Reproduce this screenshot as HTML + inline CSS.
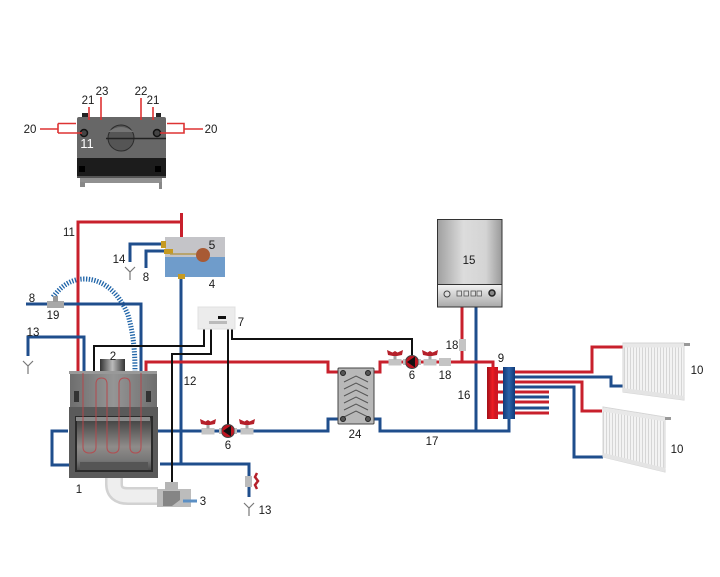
<!DOCTYPE html>
<html><head><meta charset="utf-8"><style>
html,body{margin:0;padding:0;background:#fff}
svg{display:block}
text{font-family:"Liberation Sans",sans-serif;font-size:11.5px;fill:#1a1a1a;text-anchor:middle}
.r{fill:none;stroke:#c8202c;stroke-width:3}
.b{fill:none;stroke:#1f4e8c;stroke-width:3}
.k{fill:none;stroke:#111;stroke-width:2}
.t{fill:none;stroke:#d33;stroke-width:1.6}
.y{fill:none;stroke:#777;stroke-width:1.2}
</style></head><body>
<svg width="720" height="577" viewBox="0 0 720 577" xmlns="http://www.w3.org/2000/svg">
<defs>
<linearGradient id="fp" x1="0" y1="0" x2="1" y2="0"><stop offset="0" stop-color="#6e6e6e"/><stop offset=".5" stop-color="#959595"/><stop offset="1" stop-color="#6e6e6e"/></linearGradient>
<linearGradient id="boil" x1="0" y1="0" x2="1" y2="0"><stop offset="0" stop-color="#a0a0a0"/><stop offset=".4" stop-color="#dcdcdc"/><stop offset=".75" stop-color="#d4d4d4"/><stop offset="1" stop-color="#999"/></linearGradient>
<linearGradient id="boil2" x1="0" y1="0" x2="0" y2="1"><stop offset="0" stop-color="#f4f4f4"/><stop offset="1" stop-color="#a8a8a8"/></linearGradient>
<linearGradient id="fire" x1="0" y1="0" x2="0" y2="1"><stop offset="0" stop-color="#3c3c3c"/><stop offset=".55" stop-color="#8f8c8a"/><stop offset=".8" stop-color="#777"/><stop offset="1" stop-color="#4a4a4a"/></linearGradient>
<linearGradient id="mr" x1="0" y1="0" x2="1" y2="0"><stop offset="0" stop-color="#a01018"/><stop offset=".5" stop-color="#ee1c24"/><stop offset="1" stop-color="#b01018"/></linearGradient>
<linearGradient id="mb" x1="0" y1="0" x2="1" y2="0"><stop offset="0" stop-color="#123a78"/><stop offset=".5" stop-color="#2a62a8"/><stop offset="1" stop-color="#123a78"/></linearGradient>
<linearGradient id="chim" x1="0" y1="0" x2="1" y2="0"><stop offset="0" stop-color="#333"/><stop offset=".5" stop-color="#bbb"/><stop offset="1" stop-color="#333"/></linearGradient>
<pattern id="fins" width="3" height="6" patternUnits="userSpaceOnUse"><rect width="3" height="6" fill="#f3f3f3"/><rect width="1" height="6" fill="#d6d6d6"/></pattern>
<g id="valve"><rect x="-6.500" y="-3" width="13" height="6.500" fill="#c4c4c4"/><rect x="-1.500" y="-6.500" width="3" height="4" fill="#a5a5a5"/><path d="M-8,-12 L-2.500,-9.500 L0,-11 L2.500,-9.500 L8,-12 L7,-7 L2,-6 L-2,-6 L-7,-7Z" fill="#b5202a"/></g>
<g id="pump"><circle r="6.500" fill="#c01420" stroke="#444" stroke-width="1"/><path d="M-5,0 L3,-5.500 L3,5.500Z" fill="#111"/><rect x="-9" y="-3" width="2.500" height="6" fill="#bbb"/><rect x="6.500" y="-3" width="2.500" height="6" fill="#bbb"/></g>
<g id="ydrain"><path class="y" d="M0,8 V16 M0,8 L-5,3 M0,8 L5,3"/></g>
</defs>
<rect width="720" height="577" fill="#fff"/>

<!-- top fireplace view -->
<rect x="82" y="113" width="6" height="5" fill="#222"/><rect x="156" y="113" width="5" height="5" fill="#222"/>
<rect x="77" y="117" width="89" height="42" rx="2" fill="#676767"/>
<rect x="77" y="158" width="89" height="18" fill="#1c1c1c"/>
<rect x="77" y="176" width="89" height="2" fill="#555"/>
<rect x="79" y="166" width="6" height="6" fill="#000"/><rect x="155" y="166" width="6" height="6" fill="#000"/>
<rect x="80" y="178" width="82" height="5" fill="#909090"/><rect x="80" y="182" width="5" height="5" fill="#888"/><rect x="159" y="182" width="3" height="7" fill="#888"/>
<circle cx="121" cy="138" r="13" fill="#555" stroke="#2b2b2b"/><path d="M108,132 Q121,122 134,132Z" fill="#757575"/>
<path d="M106,138.500 H166" stroke="#222" stroke-width="1.500"/>
<circle cx="84" cy="133" r="3.500" fill="#444" stroke="#111" stroke-width="1.500"/>
<circle cx="157" cy="133" r="3.500" fill="#444" stroke="#111" stroke-width="1.500"/>
<path class="t" d="M40,129 H58 M58,123.500 H76 M58,133 H82 M58,123.500 V133"/>
<path class="t" d="M167,123.500 H184 V133 H160 M184,129 H203"/>
<path class="t" d="M89,107 V120 M101,97 V120 M141,98 V120 M153,107 V120"/>
<text x="30" y="133">20</text><text x="211" y="133">20</text>
<text x="88" y="104">21</text><text x="102" y="95">23</text><text x="141" y="95">22</text><text x="153" y="104">21</text>
<text x="87" y="148" style="fill:#fff;font-size:13px">11</text>

<!-- coil -->
<path d="M53,297 C62,285 72,279 84,279 C105,279 120,295 128,315 C134,335 135,355 135,372" fill="none" stroke="#1f64a8" stroke-width="5" stroke-dasharray="1.300 1.500"/>

<!-- pipes -->
<path class="r" d="M78,372 V222 H181.500 M181.500,213 V237"/>
<path class="b" d="M130,262 V244 H163 M146,268 V251 H164"/>
<path class="b" d="M181,277 V464 M160,464 H249 V497"/>
<path class="b" d="M26,304 H141 V372"/>
<path class="b" d="M28,356 V337 H84 V372"/>
<path class="b" d="M68,431 H52 V465 H70"/>
<path class="b" d="M157,431 H328 V419 H339 M372,419 H380 V431 H509 V418"/>
<path class="b" d="M476,307 V431"/>
<path class="r" d="M146,372 V362 H328 V372 H339 M372,372 H380 V362 H493 V370"/>
<path class="r" d="M462,307 V362"/>
<path class="k" d="M204,329 V346 H94 V374 M211,329 V354 H172 V484"/>
<path class="k" d="M228,329 V428 M232,329 V339 H412 V358"/>

<!-- T 19 -->
<rect x="47" y="301" width="17" height="7" fill="#a8a8a8"/><rect x="53" y="296" width="5" height="6" fill="#999"/>

<!-- tank -->
<rect x="165" y="237" width="60" height="20" fill="#c4c4c8"/>
<rect x="165" y="257" width="60" height="20" fill="#6f9ccb"/>
<rect x="161" y="241" width="5" height="7" fill="#c69a22"/><rect x="164" y="249" width="9" height="5" fill="#c69a22"/>
<path d="M170,254 H196" stroke="#b39a50" stroke-width="1.500"/>
<circle cx="203" cy="255" r="7" fill="#a85a34"/>
<rect x="178" y="274" width="7" height="5" fill="#c69a22"/>

<!-- drains -->
<use href="#ydrain" x="130" y="264"/>
<use href="#ydrain" x="28" y="358"/>
<use href="#ydrain" x="249" y="500"/>
<rect x="245" y="476" width="7" height="11" fill="#bbb"/>
<path d="M257,473 L255,477 L258,481 L255,485 L257,489" fill="none" stroke="#b5202a" stroke-width="2.500"/>

<!-- controller -->
<rect x="198" y="307" width="37" height="22" fill="#ececec" stroke="#e0e0e0"/>
<rect x="218" y="316" width="8" height="3" fill="#111"/>
<rect x="209" y="321" width="18" height="3" fill="#bbb"/>

<!-- fireplace -->
<path d="M114,477 V484 Q114,496 128,496 H158" fill="none" stroke="#d2d2d2" stroke-width="18"/>
<path d="M114,477 V484 Q114,496 128,496 H158" fill="none" stroke="#eeeeee" stroke-width="13"/>
<rect x="100" y="359" width="25" height="14" fill="url(#chim)"/>
<rect x="70" y="373" width="87" height="34" fill="url(#fp)"/>
<rect x="69" y="371" width="88" height="3" fill="#999"/>
<rect x="74" y="391" width="5" height="11" fill="#333"/><rect x="146" y="391" width="5" height="11" fill="#333"/>
<rect x="69" y="407" width="89" height="71" fill="#5a5a5a"/>
<rect x="76" y="417" width="76" height="54" fill="url(#fire)" stroke="#2a2a2a" stroke-width="2"/>
<rect x="76" y="417" width="74" height="4" fill="#8a8a8a"/>
<rect x="80" y="462" width="68" height="8" fill="#555"/>
<path d="M83,373 V447 Q83,453 89.500,453 Q96,453 96,447 V384 Q96,378 101.500,378 Q107,378 107,384 V447 Q107,453 113,453 Q119,453 119,447 V384 Q119,378 124.500,378 Q130,378 130,384 V447 Q130,453 135.500,453 Q141,453 141,447 V373" fill="none" stroke="#b8454a" stroke-width="1.100" opacity=".85"/>
<!-- actuator -->
<rect x="157" y="489" width="34" height="18" fill="#bcbcbc"/>
<rect x="165" y="482" width="13" height="8" fill="#b5b5b5"/>
<path d="M163,491 H180 V500 L172,506 H163Z" fill="#858585"/>
<path d="M183,501 L197,501" stroke="#5b8fc4" stroke-width="3"/>

<!-- valves and pumps -->
<use href="#valve" x="208" y="431"/><use href="#pump" x="228" y="431"/><use href="#valve" x="247" y="431"/>
<use href="#valve" x="395" y="362"/><use href="#pump" x="412" y="362"/><use href="#valve" x="430" y="362"/>
<rect x="439" y="358" width="12" height="8" fill="#c4c4c4"/>
<rect x="459" y="339" width="7" height="12" fill="#c4c4c4"/>

<!-- heat exchanger -->
<rect x="338" y="368" width="36" height="56" rx="1" fill="#b8b8b8" stroke="#444"/>
<path d="M344,382 L356,376 L368,382 M344,389 L356,383 L368,389 M344,396 L356,390 L368,396 M344,403 L356,397 L368,403 M344,410 L356,404 L368,410 M344,417 L356,411 L368,417" fill="none" stroke="#555" stroke-width="1"/>
<circle cx="343" cy="373" r="2.500" fill="#555" stroke="#222"/><circle cx="368" cy="373" r="2.500" fill="#555" stroke="#222"/>
<circle cx="343" cy="419" r="2.500" fill="#555" stroke="#222"/><circle cx="368" cy="419" r="2.500" fill="#555" stroke="#222"/>

<!-- boiler -->
<rect x="437.500" y="219.500" width="64.500" height="65" fill="url(#boil)" stroke="#333"/>
<rect x="437.500" y="284.500" width="64.500" height="22.500" fill="url(#boil2)" stroke="#333"/>
<circle cx="447" cy="294" r="3" fill="#ddd" stroke="#444"/>
<rect x="457" y="291" width="4.500" height="5" fill="#ddd" stroke="#555" stroke-width=".8"/><rect x="464" y="291" width="4.500" height="5" fill="#ddd" stroke="#555" stroke-width=".8"/><rect x="471" y="291" width="4.500" height="5" fill="#ddd" stroke="#555" stroke-width=".8"/><rect x="477" y="291" width="4.500" height="5" fill="#ddd" stroke="#555" stroke-width=".8"/>
<circle cx="492" cy="293" r="3" fill="#888" stroke="#222" stroke-width="1.500"/>

<!-- manifold lines -->
<path d="M497,372 H592 V347 H623" class="r"/>
<path d="M515,377 H611 V386 H623" class="b"/>
<path d="M497,382 H582 V411 H602" class="r"/>
<path d="M515,387 H574 V457 H603" class="b"/>
<path d="M497,392 H549 M497,402 H549 M497,413 H549" class="r"/>
<path d="M515,397 H549 M515,408 H549" class="b"/>
<rect x="487" y="367" width="11" height="52" fill="url(#mr)"/>
<rect x="495" y="368" width="3" height="50" fill="#d01622"/>
<rect x="503" y="367" width="12" height="52" fill="url(#mb)"/>
<path d="M498,372 H503 M498,382 H503 M498,392 H503 M498,402 H503 M498,413 H503" stroke="#c8202c" stroke-width="3"/>

<!-- radiators -->
<polygon points="623,343 684,343 684,400 623,392" fill="url(#fins)" stroke="#d4d4d4"/>
<path d="M623,345.500 H684" stroke="#e8e8e8" stroke-width="4"/>
<path d="M623,390 L684,398" stroke="#e4e4e4" stroke-width="4"/>
<rect x="684" y="343" width="6" height="3" fill="#999"/>
<polygon points="603,407 665,417 665,472 603,457" fill="url(#fins)" stroke="#d4d4d4"/>
<path d="M603,409.500 L665,419.500" stroke="#e8e8e8" stroke-width="4"/>
<path d="M603,455 L665,470" stroke="#e4e4e4" stroke-width="4"/>
<rect x="665" y="417" width="6" height="3" fill="#999"/>

<!-- labels -->
<text x="69" y="236">11</text><text x="212" y="249" style="font-size:12px">5</text>
<text x="119" y="263">14</text><text x="146" y="281">8</text><text x="212" y="288">4</text>
<text x="32" y="302">8</text><text x="53" y="319">19</text><text x="33" y="336">13</text>
<text x="113" y="360">2</text><text x="241" y="326">7</text><text x="190" y="385">12</text>
<text x="79" y="493">1</text><text x="203" y="505">3</text><text x="265" y="514">13</text>
<text x="228" y="449">6</text><text x="412" y="379">6</text><text x="355" y="438">24</text>
<text x="432" y="445">17</text><text x="445" y="379">18</text><text x="452" y="349">18</text>
<text x="464" y="399">16</text><text x="501" y="362">9</text><text x="469" y="264">15</text>
<text x="697" y="374">10</text><text x="677" y="453">10</text>
</svg>
</body></html>
